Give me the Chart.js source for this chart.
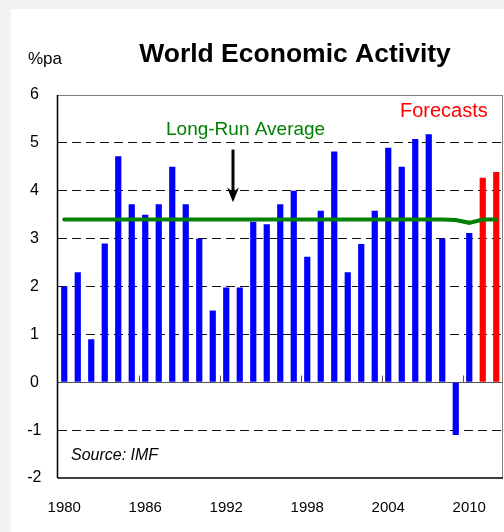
<!DOCTYPE html>
<html>
<head>
<meta charset="utf-8">
<script src="https://cdn.jsdelivr.net/npm/chart.js@4.4.1/dist/chart.umd.min.js"></script>
<style>
  html, body {margin: 0; padding: 0; background: #f2f2f2;}
  #wrap {width: 504px; height: 532px; position: relative;}
</style>
</head>
<body>
<div id="wrap"><canvas id="world-chart" width="504" height="532"></canvas></div>
<script>
/************/
/*** DATA ***/
/************/

// Years on the category axis (1980 - 2012):
const years = ['1980','1981','1982','1983','1984','1985','1986','1987','1988','1989',
               '1990','1991','1992','1993','1994','1995','1996','1997','1998','1999',
               '2000','2001','2002','2003','2004','2005','2006','2007','2008','2009',
               '2010','2011','2012'];

// World growth, %pa (actuals, blue):
const actualGrowth = [2.0, 2.3, 0.9, 2.9, 4.72, 3.72, 3.5, 3.72, 4.5, 3.72,
                      3.0, 1.5, 1.98, 1.98, 3.35, 3.3, 3.72, 4.0, 2.62, 3.58,
                      4.82, 2.3, 2.89, 3.58, 4.9, 4.5, 5.08, 5.18, 3.0, -1.1,
                      3.12, null, null];

// IMF forecasts, %pa (red):
const forecastGrowth = [null, null, null, null, null, null, null, null, null, null,
                        null, null, null, null, null, null, null, null, null, null,
                        null, null, null, null, null, null, null, null, null, null,
                        null, 4.27, 4.39];

// Long-run average, %pa (green line):
const longRunAverage = [3.4, 3.4, 3.4, 3.4, 3.4, 3.4, 3.4, 3.4, 3.4, 3.4,
                        3.4, 3.4, 3.4, 3.4, 3.4, 3.4, 3.4, 3.4, 3.4, 3.4,
                        3.4, 3.4, 3.4, 3.4, 3.4, 3.4, 3.4, 3.4, 3.4, 3.39,
                        3.33, 3.4, 3.4];

// Y axis range / steps:
const yMin = -2, yMax = 6, yStep = 1;
// Every n-th year gets a label:
const labelEvery = 6;

/*****************/
/*** PLUGINS ***/
/*****************/

// Page panel, frame, titles and notes:
const decorations = {
    id: 'decorations',
    beforeDraw(chart) {
        const ctx = chart.ctx;
        ctx.save();
        ctx.fillStyle = '#f2f2f2';
        ctx.fillRect(0, 0, chart.width, chart.height);
        ctx.fillStyle = '#ffffff';
        ctx.fillRect(11, 9, chart.width - 11, chart.height - 9);
        ctx.restore();
    },
    afterDatasetsDraw(chart) {
        const {ctx, chartArea: a, scales: {x, y}} = chart;
        ctx.save();
        // frame
        ctx.lineWidth = 1;
        ctx.strokeStyle = '#808080';
        ctx.beginPath();
        ctx.moveTo(a.left, a.top + 0.5); ctx.lineTo(a.right, a.top + 0.5);
        ctx.moveTo(a.right - 0.5, a.top); ctx.lineTo(a.right - 0.5, a.bottom);
        ctx.stroke();
        ctx.strokeStyle = '#000000';
        ctx.lineWidth = 1.5;
        ctx.beginPath();
        ctx.moveTo(a.left, a.bottom); ctx.lineTo(a.right, a.bottom);
        ctx.moveTo(a.left, a.top); ctx.lineTo(a.left, a.bottom);
        ctx.stroke();

        // small ticks on the zero line between year groups
        const y0 = Math.round(y.getPixelForValue(0)) + 0.5;
        ctx.strokeStyle = '#555555';
        ctx.lineWidth = 1;
        ctx.beginPath();
        for (let i = labelEvery; i < years.length; i += labelEvery) {
            const bx = Math.round((x.getPixelForValue(i - 1) + x.getPixelForValue(i)) / 2) + 0.5;
            ctx.moveTo(bx, y0); ctx.lineTo(bx, y0 - 7);
        }
        ctx.stroke();

        // arrow pointing at the average line
        const ax = (x.getPixelForValue(12) + x.getPixelForValue(13)) / 2;
        const aTop = y.getPixelForValue(4.86), aBot = y.getPixelForValue(3.76);
        ctx.strokeStyle = '#000000';
        ctx.fillStyle = '#000000';
        ctx.lineWidth = 3;
        ctx.beginPath();
        ctx.moveTo(ax, aTop); ctx.lineTo(ax, aBot - 10);
        ctx.stroke();
        ctx.beginPath();
        ctx.moveTo(ax - 6, aBot - 15); ctx.lineTo(ax, aBot); ctx.lineTo(ax + 6, aBot - 15);
        ctx.lineTo(ax, aBot - 10);
        ctx.closePath();
        ctx.fill();

        // texts
        ctx.textBaseline = 'alphabetic';
        ctx.fillStyle = '#000000';
        ctx.textAlign = 'center';
        ctx.font = 'bold 26.5px "Liberation Sans", Arial, sans-serif';
        ctx.fillText('World Economic Activity', 295, 62);
        ctx.textAlign = 'left';
        ctx.font = '17px "Liberation Sans", Arial, sans-serif';
        ctx.fillText('%pa', 28, 64);
        ctx.fillStyle = '#ff0000';
        ctx.font = '20px "Liberation Sans", Arial, sans-serif';
        ctx.fillText('Forecasts', 400, 117);
        ctx.fillStyle = '#008000';
        ctx.font = '19px "Liberation Sans", Arial, sans-serif';
        ctx.fillText('Long-Run Average', 166, 135);
        ctx.fillStyle = '#000000';
        ctx.font = 'italic 16px "Liberation Sans", Arial, sans-serif';
        ctx.fillText('Source: IMF', 71, 460);
        ctx.restore();
    }
};

/****************/
/*** Plotting ***/
/****************/

function genWorldChart(elementId) {
    const ctx = document.getElementById(elementId);
    return new Chart(ctx, {
        type: 'bar',
        data: {
            labels: years,
            datasets: [
                {type: 'line', label: 'Long-Run Average', data: longRunAverage, borderColor: '#008000',
                 borderWidth: 4, pointRadius: 0, tension: 0, order: 0, borderCapStyle: 'round'},
                {label: 'Actual', data: actualGrowth, backgroundColor: '#0000ff', order: 1,
                 barPercentage: 0.46, categoryPercentage: 1, grouped: false},
                {label: 'Forecasts', data: forecastGrowth, backgroundColor: '#ff0000', order: 1,
                 barPercentage: 0.46, categoryPercentage: 1, grouped: false}
            ]
        },
        options: {
            responsive: false,
            animation: false,
            devicePixelRatio: 1,
            layout: {padding: {left: 11, top: 95, right: 1, bottom: 14}},
            plugins: {legend: {display: false}, tooltip: {enabled: false}, title: {display: false}},
            scales: {
                x: {
                    offset: true,
                    grid: {display: false, drawTicks: false},
                    border: {display: false},
                    afterFit: (scale) => { scale.height = 40; scale.paddingLeft = 0; scale.paddingRight = 0; },
                    ticks: {
                        autoSkip: false, maxRotation: 0, padding: 21, color: '#000000',
                        font: {family: '"Liberation Sans", Arial, sans-serif', size: 15},
                        callback: function(value, index) {
                            return index % labelEvery === 0 ? this.getLabelForValue(value) : null;
                        }
                    }
                },
                y: {
                    min: yMin, max: yMax,
                    afterFit: (scale) => { scale.width = 46.5; },
                    grid: {
                        drawTicks: false,
                        color: (c) => (c.tick.value === 0 ? '#555555' : (c.tick.value === yMax || c.tick.value === yMin ? 'rgba(0,0,0,0)' : '#111111')),
                        lineWidth: 1
                    },
                    border: {display: false, dash: (c) => (c.tick && c.tick.value === 0 ? [] : [9, 5])},
                    ticks: {
                        stepSize: yStep, padding: 16, crossAlign: 'center', color: '#000000',
                        font: {family: '"Liberation Sans", Arial, sans-serif', size: 16}
                    }
                }
            }
        },
        plugins: [decorations]
    });
}

/************/
/*** INIT ***/
/************/

let chart = genWorldChart('world-chart');
</script>
</body>
</html>
